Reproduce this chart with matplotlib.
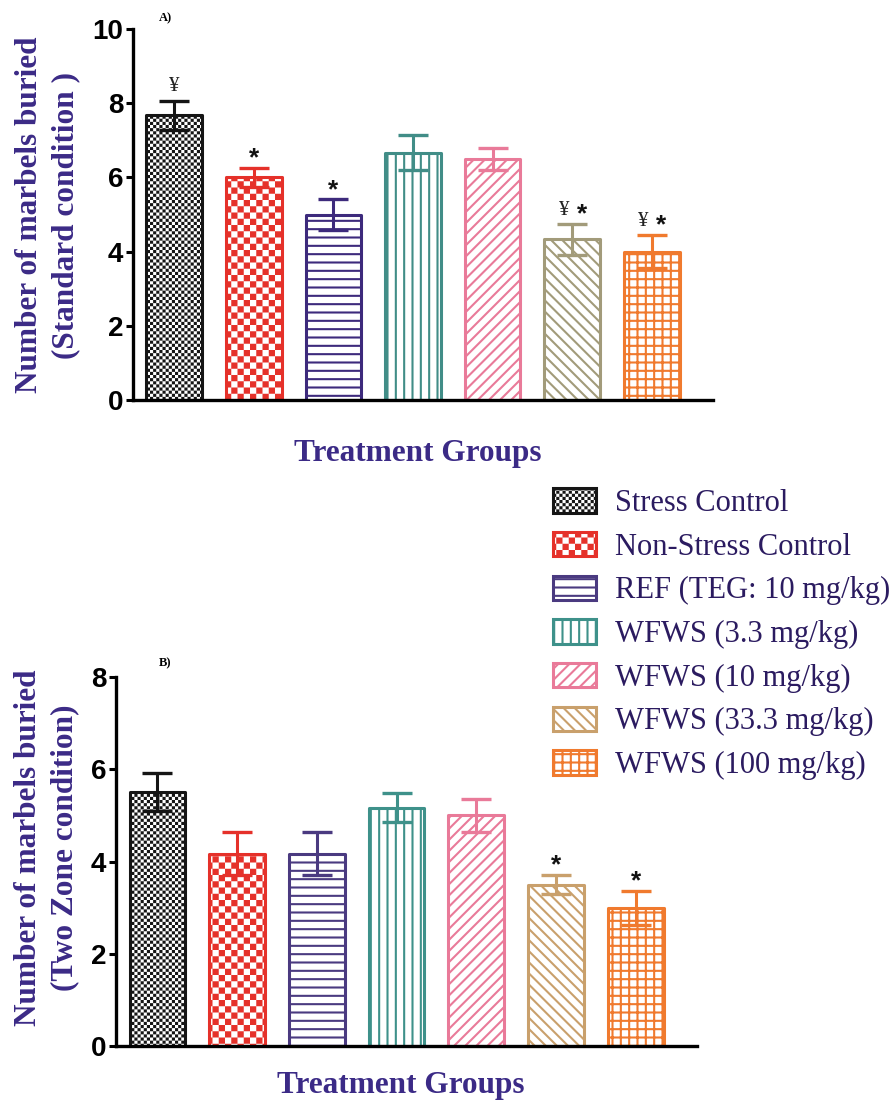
import numpy as np
import matplotlib
matplotlib.use("Agg")
import matplotlib.pyplot as plt
import matplotlib.hatch as mhatch
from matplotlib.path import Path

groups = ["Stress Control", "Non-Stress Control", "REF (TEG: 10 mg/kg)",
          "WFWS (3.3 mg/kg)", "WFWS (10 mg/kg)", "WFWS (33.3 mg/kg)",
          "WFWS (100 mg/kg)"]

# standard condition
std_mean = [7.67, 6.0, 5.0, 6.67, 6.5, 4.33, 4.0]
std_sem = [0.40, 0.26, 0.41, 0.48, 0.30, 0.42, 0.45]
std_yen = [True, False, False, False, False, True, True]
std_star = [False, True, True, False, False, True, True]

# two zone condition
two_mean = [5.5, 4.17, 4.17, 5.17, 5.0, 3.5, 3.0]
two_sem = [0.41, 0.47, 0.47, 0.31, 0.35, 0.21, 0.37]
two_yen = [False] * 7
two_star = [False, False, False, False, False, True, True]

colors_a = ["#151515", "#e5312a", "#3d2a7c", "#418d87", "#e97a99", "#a29b7a", "#f07a2e"]
colors_b = ["#151515", "#e5312a", "#4a3a80", "#3e918a", "#e97a99", "#c9a06c", "#f07a2e"]
hatches = ["cc", "c", "--", "||", "///", "\\\\\\", "++"]

label_col = "#3b2a86"
legend_col = "#2b1b60"

plt.rcParams["hatch.linewidth"] = 1.5


class CheckerHatch(mhatch.HatchPatternBase):
    """checkerboard fill, 'c' = coarse, 'cc' = fine"""

    def __init__(self, hatch, density):
        n = hatch.count("c")
        self.cells = int(density * n * 4 / 3) * 2
        self.num_vertices = (self.cells ** 2 // 2) * 5

    def set_vertices_and_codes(self, vertices, codes):
        step = 1.0 / self.cells
        pad = plt.rcParams["hatch.linewidth"] / 72 / 2
        sq = np.array([[pad, pad], [step - pad, pad], [step - pad, step - pad],
                       [pad, step - pad], [pad, pad]])
        k = 0
        for i in range(self.cells):
            for j in range(self.cells):
                if (i + j) % 2:
                    continue
                vertices[k:k + 5] = sq + [i * step, j * step]
                codes[k:k + 5] = [Path.MOVETO, Path.LINETO, Path.LINETO,
                                  Path.LINETO, Path.CLOSEPOLY]
                k += 5


mhatch._hatch_types.append(CheckerHatch)

fig = plt.figure(figsize=(8.96, 11), dpi=100)
ax_a = fig.add_axes([0.1484, 0.6364, 0.6474, 0.3372])
ax_b = fig.add_axes([0.1295, 0.0491, 0.6485, 0.3354])


def mark(ax, txt, xy, dx, star):
    if star:
        ax.annotate(txt, xy, xytext=(dx, -2), textcoords="offset points",
                    ha="center", va="bottom", fontsize=19,
                    family="Liberation Sans", weight="bold", color="#111111")
    else:
        ax.annotate(txt, xy, xytext=(dx, 3), textcoords="offset points",
                    ha="center", va="bottom", fontsize=15,
                    family="Liberation Serif", color="#222222")


def draw_panel(ax, means, sems, colors, yen, star, ymax):
    x = np.arange(len(means))
    bars = []
    for i in x:
        b = ax.bar(i, means[i], width=0.7, color="white", edgecolor=colors[i],
                   hatch=hatches[i], linewidth=2.2, joinstyle="round", zorder=2)
        bars.append(b[0])
        ax.errorbar(i, means[i], yerr=sems[i], fmt="none", ecolor=colors[i],
                    elinewidth=2.2, capsize=10.5, capthick=2.4, zorder=3)
        top = (i, means[i] + sems[i])
        if yen[i] and star[i]:
            mark(ax, "¥", top, -6, False)
            mark(ax, "*", top, 7, True)
        elif yen[i]:
            mark(ax, "¥", top, 0, False)
        elif star[i]:
            mark(ax, "*", top, 0, True)
    ax.set_xlim(-0.52, 6.77)
    ax.set_ylim(0, ymax)
    ax.set_yticks(np.arange(0, ymax + 1, 2))
    ax.set_xticks([])
    for s in ["top", "right"]:
        ax.spines[s].set_visible(False)
    for s in ["left", "bottom"]:
        ax.spines[s].set_linewidth(2.4)
    ax.tick_params(axis="y", length=5, width=2.2, pad=2, labelsize=20)
    for t in ax.get_yticklabels():
        t.set_family("Liberation Sans")
        t.set_weight("bold")
    return bars


draw_panel(ax_a, std_mean, std_sem, colors_a, std_yen, std_star, 10)
bars_b = draw_panel(ax_b, two_mean, two_sem, colors_b, two_yen, two_star, 8)

lab_kw = dict(family="Liberation Serif", weight="bold", color=label_col, fontsize=22.5)
fig.text(0.0535, 0.8045, "Number of marbels buried\n(Standard condition )",
         rotation=90, ha="center", va="center", linespacing=1.33, **lab_kw)
fig.text(0.0525, 0.229, "Number of marbels buried\n(Two Zone condition)",
         rotation=90, ha="center", va="center", linespacing=1.33, **lab_kw)
fig.text(0.4665, 0.588, "Treatment Groups", ha="center", va="center", **lab_kw)
fig.text(0.4475, 0.0136, "Treatment Groups", ha="center", va="center", **lab_kw)

fig.text(0.185, 0.983, "A)", ha="center", va="center", fontsize=9,
         family="Liberation Serif", weight="bold")
fig.text(0.184, 0.397, "B)", ha="center", va="center", fontsize=9,
         family="Liberation Serif", weight="bold")

leg = fig.legend(bars_b, groups, loc="upper left", bbox_to_anchor=(0.617, 0.556),
                 frameon=False, borderpad=0, borderaxespad=0,
                 handlelength=1.4, handleheight=0.85, handletextpad=0.65,
                 labelspacing=0.455,
                 prop=dict(family="Liberation Serif", size=22))
for t in leg.get_texts():
    t.set_color(legend_col)

fig.savefig("out.png", dpi=100)
